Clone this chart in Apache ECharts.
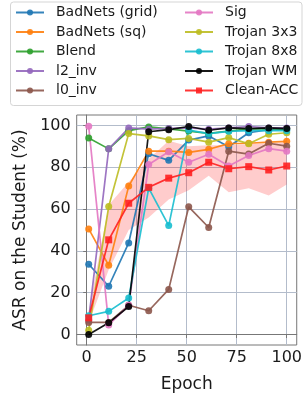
<!DOCTYPE html>
<html>
<head>
<meta charset="utf-8">
<script src="https://cdn.jsdelivr.net/npm/echarts@6/dist/echarts.min.js"></script>
<style>
html,body{margin:0;padding:0;background:#fff;}
#chart{width:305px;height:398px;}
</style>
</head>
<body>
<div id="chart"></div>
<script>
const epochs = [1, 11, 21, 31, 41, 51, 61, 71, 81, 91, 100];
const xTicks = [0, 25, 50, 75, 100];
const yTicks = [0, 20, 40, 60, 80, 100];

const badnetsGrid = [33.6, 23.1, 43.8, 86.5, 83.3, 93.0, 95.0, 89.8, 96.5, 98.0, 98.0];
const badnetsSq   = [50.5, 33.1, 71.0, 87.7, 87.7, 87.1, 88.6, 91.3, 91.5, 92.0, 92.4];
const blend       = [94.0, 88.8, 97.5, 99.3, 98.4, 97.3, 96.2, 97.3, 98.4, 98.4, 98.4];
const l2Inv       = [7.0, 88.8, 98.8, 98.2, 98.6, 98.8, 98.2, 98.8, 99.5, 98.8, 98.8];
const l0Inv       = [5.8, 5.8, 14.0, 11.4, 21.6, 61.1, 51.2, 87.7, 86.3, 91.5, 90.1];
const sig         = [99.6, 4.6, 14.0, 81.3, 87.4, 82.4, 86.2, 80.6, 85.6, 88.9, 87.7];
const trojan3x3   = [2.0, 61.2, 96.1, 95.0, 93.2, 93.8, 92.0, 94.2, 91.2, 95.8, 96.5];
const trojan8x8   = [9.0, 11.1, 17.5, 70.0, 52.1, 97.8, 96.1, 97.2, 97.5, 97.5, 97.5];
const trojanWM    = [0.0, 5.6, 13.4, 97.0, 98.0, 99.5, 97.7, 98.8, 98.5, 98.8, 98.5];
const cleanAcc    = [8.0, 45.3, 62.8, 70.4, 74.8, 77.4, 82.4, 79.3, 80.3, 78.7, 80.6];
const cleanLow    = [5.5, 31.0, 50.0, 56.0, 64.6, 69.0, 76.0, 68.0, 70.0, 66.5, 71.8];
const cleanHigh   = [11.0, 62.0, 73.0, 84.0, 92.7, 90.0, 90.5, 90.5, 91.0, 91.5, 92.0];

const names = ['BadNets (grid)', 'BadNets (sq)', 'Blend', 'l2_inv', 'l0_inv',
               'Sig', 'Trojan 3x3', 'Trojan 8x8', 'Trojan WM', 'Clean-ACC'];
const colors = ['#1f77b4', '#ff7f0e', '#2ca02c', '#9467bd', '#8c564b',
                '#e377c2', '#bcbd22', '#17becf', '#000000', '#ff2020'];
const values = [badnetsGrid, badnetsSq, blend, l2Inv, l0Inv, sig, trojan3x3, trojan8x8, trojanWM, cleanAcc];

const pair = arr => epochs.map((e, i) => [e, arr[i]]);

const FONT = 'DejaVu Sans';
const series = [];
series.push({
  name: 'band', type: 'custom', silent: true, z: 1,
  data: epochs.map((e, i) => [e, cleanLow[i], cleanHigh[i]]),
  encode: {x: 0, y: [1, 2]},
  renderItem: function (params, api) {
    if (params.dataIndex !== 0) return null;
    const pts = [];
    for (let i = 0; i < epochs.length; i++) pts.push(api.coord([epochs[i], cleanHigh[i]]));
    for (let i = epochs.length - 1; i >= 0; i--) pts.push(api.coord([epochs[i], cleanLow[i]]));
    return {
      type: 'polygon',
      shape: {points: pts},
      style: {fill: 'rgba(255,0,0,0.2)', stroke: 'none'}
    };
  }
});
names.forEach((n, i) => {
  series.push({
    name: n, type: 'line', data: pair(values[i]),
    symbol: n === 'Clean-ACC' ? 'rect' : 'circle',
    symbolSize: 7,
    itemStyle: {color: colors[i], opacity: 0.9},
    lineStyle: {color: colors[i], width: 1.7, opacity: 0.9},
    z: 2
  });
});

const gridColor = '#b3bccb';
const axisCommon = {
  type: 'value',
  axisLine: {show: true, lineStyle: {color: '#777', width: 1}},
  axisTick: {show: true, length: 3.5, lineStyle: {color: '#777'}},
  splitLine: {show: true, lineStyle: {color: gridColor, width: 1}},
  nameTextStyle: {fontFamily: FONT, fontSize: 17, color: '#1a1a1a'},
  nameLocation: 'middle'
};

const legendCommon = {
  orient: 'vertical', top: 5.5, padding: 0,
  itemWidth: 28, itemHeight: 7.5, itemGap: 5.5,
  textStyle: {fontFamily: FONT, fontSize: 14, color: '#1a1a1a', padding: [0, 0, 0, 7]},
  selectedMode: false
};

const option = {
  animation: false,
  backgroundColor: '#fff',
  textStyle: {fontFamily: FONT},
  grid: {left: 76.7, right: 7.7, top: 115, bottom: 42.3, show: true, borderColor: '#777', borderWidth: 1},
  xAxis: Object.assign({}, axisCommon, {
    min: -5, max: 105, name: 'Epoch', nameGap: 31,
    axisLabel: {customValues: xTicks, fontFamily: FONT, fontSize: 16, color: '#1a1a1a', margin: 5},
    axisTick: {show: true, length: 3.5, customValues: xTicks, lineStyle: {color: '#777'}}
  }),
  yAxis: Object.assign({}, axisCommon, {
    min: -5, max: 105, name: 'ASR on the Student (%)', nameGap: 44,
    axisLabel: {customValues: yTicks, fontFamily: FONT, fontSize: 16, color: '#1a1a1a', margin: 6},
    axisTick: {show: true, length: 3.5, customValues: yTicks, lineStyle: {color: '#777'}}
  }),
  legend: [
    Object.assign({}, legendCommon, {left: 15, data: names.slice(0, 5)}),
    Object.assign({}, legendCommon, {left: 184, data: names.slice(5)})
  ],
  graphic: [{
    type: 'rect', left: 10, top: 1.5, z: -1,
    shape: {width: 291.5, height: 103.5, r: 3},
    style: {fill: '#fff', stroke: '#d5d5d5', lineWidth: 1}
  }],
  series: series
};

const chart = echarts.init(document.getElementById('chart'), null, {renderer: 'canvas'});
chart.setOption(option);
</script>
</body>
</html>
